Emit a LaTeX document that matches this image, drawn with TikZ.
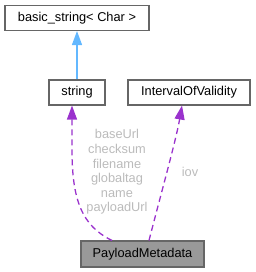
\documentclass[tikz,border=0pt]{standalone}
\usepackage{fontspec}
\setmainfont{Liberation Sans}
\usetikzlibrary{arrows.meta}
\definecolor{boxline}{HTML}{666666}
\definecolor{inherit}{HTML}{63B8FF}
\definecolor{usage}{HTML}{9A32CD}
\definecolor{lbl}{HTML}{BBBBBB}
\begin{document}
\begin{tikzpicture}[x=1pt, y=-1pt,
    font=\fontsize{12.8}{14.6}\selectfont,
    cls/.style={draw=boxline, line width=1.1pt, fill=white, inner sep=0pt, minimum height=25pt},
    head/.style={-{Triangle[length=14pt, width=10pt, fill=#1]}, draw=#1, line width=1.3pt},
    use/.style={head=usage, dash pattern=on 6pt off 4pt}]
            \useasboundingbox (0,0) rectangle (255,272);
            % Draw class boxes
            \node[cls, minimum width=144pt] (basicstring) at (77,18) {basic\_string< Char >};
            \node[cls, minimum width=56pt] (string) at (77,92.5) {string};
            \node[cls, minimum width=122pt] (iov) at (189,92.5) {IntervalOfValidity};
            \node[cls, minimum width=123pt, minimum height=26pt, fill=black!40] (payload) at (142.5,254) {PayloadMetadata};
            % Draw inheritance arrow
            \draw[head=inherit] (string.north) -- (basicstring.south);
            % Draw usage arrows
            \draw[use] ([xshift=-30.5pt]payload.north) .. controls (82,226) and (72,200) .. (72,150) -- ([xshift=-5pt]string.south);
            \draw[use] ([xshift=6.5pt]payload.north) .. controls (162,190) and (176,140) .. ([xshift=-7pt]iov.south);
            % Add member labels
            \node[lbl, align=center] (members) at (117,172) {baseUrl\\checksum\\filename\\globaltag\\name\\payloadUrl};
            \node[lbl] (iovlabel) at (190,172) {iov};
        \end{tikzpicture}
\end{document}
